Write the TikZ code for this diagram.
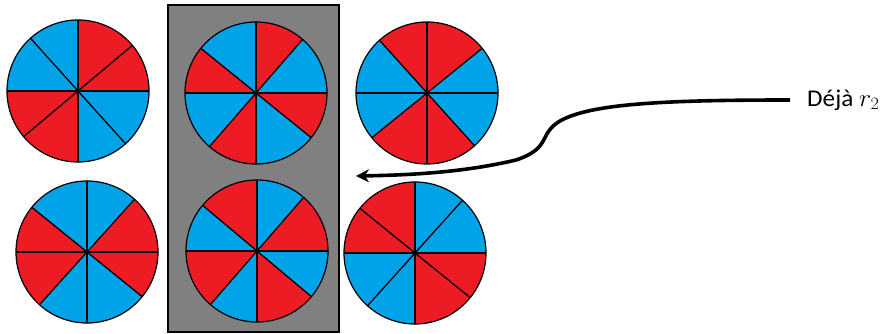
\documentclass[tikz,border=0pt]{standalone}
\usepackage{fontspec}
\setmainfont{Carlito}
\usetikzlibrary{arrows.meta}
\definecolor{pred}{RGB}{237,28,36}
\definecolor{pblue}{RGB}{0,162,232}
\definecolor{pgray}{RGB}{128,128,128}
\tikzset{
  sepline/.style={black, line width=1.3pt},
  grayframe/.style={fill=pgray, draw=black, line width=1.6pt},
  pointer/.style={black, line width=3.6pt, -{Stealth[length=13pt,width=13pt]}},
  lbl/.style={font=\fontsize{24}{26}\selectfont, inner sep=0pt, anchor=west}
}
\newcommand{\mypie}[4]{% center, sectors list, lines list, name
  \begin{scope}[shift={#1}]
    \foreach \a/\b/\c in {#2}
      \fill[\c] (0,0) -- (\a:71) arc[start angle=\a, end angle=\b, radius=71] -- cycle;
    \foreach \a in {#3}
      \draw[sepline] (\a:71) -- (\a+180:71);
    \node[circle, minimum size=142pt, inner sep=0pt, draw=black, line width=1.2pt] (#4) at (0,0) {};
  \end{scope}
}
\begin{document}
\begin{tikzpicture}[x=1pt,y=1pt]
\useasboundingbox (0,0) rectangle (893,334);
\fill[white] (0,0) rectangle (893,334);
\node[grayframe, minimum width=171pt, minimum height=327pt, inner sep=0pt, anchor=south west] (frame) at (167,1) {};
% top left
\mypie{(78,243)}{0/40/pred,40/90/pred,90/132/pblue,132/180/pblue,180/220/pred,220/270/pred,270/311/pblue,311/360/pblue}{0,40,90,132}{c1}
% top middle
\mypie{(256,241)}{0/49/pblue,49/90/pred,90/141/pblue,141/180/pred,180/229/pblue,229/270/pred,270/321/pblue,321/360/pred}{0,49,90,141}{c2}
% top right
\mypie{(427,241)}{0/39/pblue,39/90/pred,90/132/pred,132/180/pblue,180/219/pblue,219/270/pred,270/312/pred,312/360/pblue}{0,39,90,132}{c3}
% bottom left
\mypie{(87,82)}{0/48/pred,48/90/pblue,90/141/pblue,141/180/pred,180/228/pred,228/270/pblue,270/321/pblue,321/360/pred}{0,48,90,141}{c4}
% bottom middle
\mypie{(257,83)}{0/49/pred,49/90/pblue,90/140/pred,140/180/pblue,180/229/pred,229/270/pblue,270/320/pred,320/360/pblue}{0,49,90,140}{c5}
% bottom right
\mypie{(415,81)}{0/48/pblue,48/90/pblue,90/141/pred,141/180/pred,180/228/pblue,228/270/pblue,270/321/pred,321/360/pred}{0,48,90,141}{c6}
% label and arrow
\node[lbl] (deja) at (807,234) {\scalebox{1.05}[1]{Déjà $r_2$}};
\coordinate (start) at (790,234);
\coordinate (tip) at (356,158);
\draw[pointer] (start) .. controls (660,234) and (590,230) .. (560,213)
  .. controls (538,200) and (552,186) .. (516,174)
  .. controls (470,163) and (420,159) .. (tip);
\end{tikzpicture}
\end{document}
